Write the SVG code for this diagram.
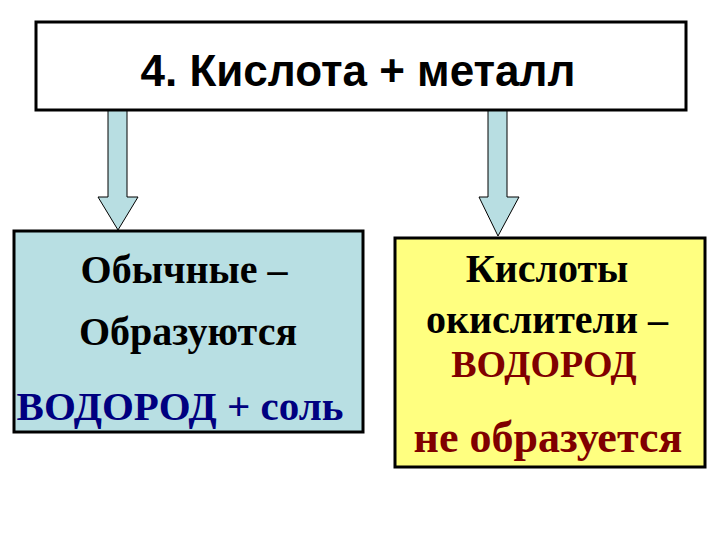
<svg xmlns="http://www.w3.org/2000/svg" width="720" height="540" viewBox="0 0 720 540">
<style>
.box{stroke:#000;stroke-width:3}
.arrow{fill:#b8dee2;stroke:#000;stroke-width:1}
.t{font-family:"Liberation Serif","Times New Roman",serif;font-weight:bold;font-size:40px;text-anchor:middle}
.title{font-family:"Liberation Sans",Arial,sans-serif;font-weight:bold;font-size:44px;text-anchor:middle}
</style>
<rect width="720" height="540" fill="#fff"/>
<g id="connectors">
<polygon class="arrow" points="108,110 127,110 127,197 138,197 118,230 98,197 108,197"/>
<polygon class="arrow" points="488,110 507,110 507,197 519,197 498,236 479,197 488,197"/>
</g>
<g id="top">
<rect class="box" x="36" y="22" width="650" height="88" fill="#fff"/>
<text class="title" x="358" y="86">4. Кислота + металл</text>
</g>
<g id="left">
<rect class="box" x="14" y="231" width="349" height="201" fill="#b8dfe3"/>
<text class="t" x="184" y="283">Обычные –</text>
<text class="t" x="188" y="345">Образуются</text>
<text class="t" x="180" y="420" fill="#000080" style="font-size:41px">ВОДОРОД + соль</text>
</g>
<g id="right">
<rect class="box" x="395" y="238" width="310" height="229" fill="#ffff80"/>
<text class="t" x="547" y="282">Кислоты</text>
<text class="t" x="547" y="333">окислители –</text>
<text class="t" x="544" y="377" fill="#800000" style="font-size:38px">ВОДОРОД</text>
<text class="t" x="548" y="452" fill="#800000" style="font-size:44px">не образуется</text>
</g>
</svg>
